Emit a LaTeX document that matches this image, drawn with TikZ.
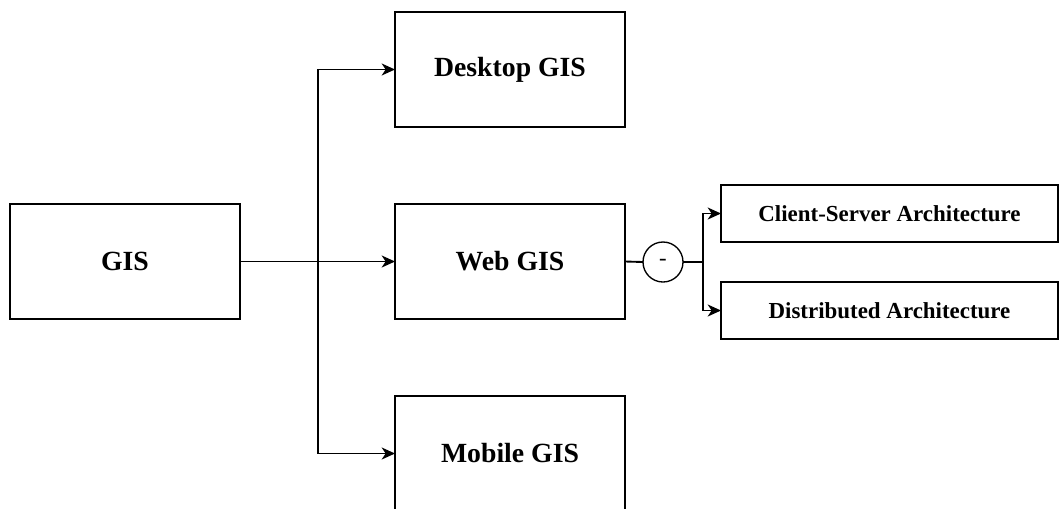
\documentclass[tikz,border=0pt]{standalone}
\usepackage{fontspec}
\setmainfont{Liberation Serif}
\usetikzlibrary{arrows.meta}
\begin{document}
\begin{tikzpicture}[x=0.75pt,y=-0.75pt,
  bigbox/.style={draw=black,line width=1.3pt,fill=white,inner sep=0pt,outer sep=0pt,
    minimum width=172.5pt,minimum height=86.25pt,font=\bfseries\fontsize{20.8}{24}\selectfont},
  smallbox/.style={draw=black,line width=1.3pt,fill=white,inner sep=0pt,outer sep=0pt,
    minimum width=252.75pt,minimum height=42.75pt,font=\bfseries\fontsize{17.2}{20}\selectfont},
  circ/.style={draw=black,line width=1pt,circle,inner sep=0pt,outer sep=0pt,minimum size=30pt,
    font=\fontsize{17}{20}\selectfont},
  conn/.style={draw=black,line width=1.4pt},
  arr/.style={conn,-{Stealth[length=10pt,width=9pt,inset=3pt]}}]
\clip (0,0) rectangle (1060,508);
\fill[white] (0,0) rectangle (1060,508);
\node[bigbox] (gis) at (125,261.5) {GIS};
\node[bigbox] (desk) at (510,69.5) {Desktop GIS};
\node[bigbox] (web) at (510,261.5) {Web GIS};
\node[bigbox] (mob) at (510,453.5) {Mobile GIS};
\node[smallbox] (cs) at (889.5,213.5) {Client-Server Architecture};
\node[smallbox] (da) at (889.5,310.5) {Distributed Architecture};
\node[circ] (c) at (663,262) {-};
\coordinate (j) at (318,261.5);
\coordinate (k) at (703,262);
\draw[arr] (gis.east) -- (web.west);
\draw[arr] (j) |- (desk.west);
\draw[arr] (j) |- (mob.west);
\draw[conn] (web.east) -- (c.west);
\draw[conn] (c.east) -- (k);
\draw[arr] (k) |- (cs.west);
\draw[arr] (k) |- (da.west);
\end{tikzpicture}
\end{document}
